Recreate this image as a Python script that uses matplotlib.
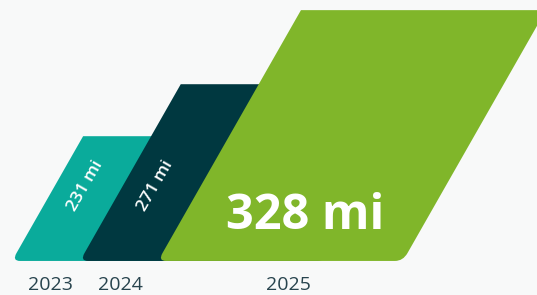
import numpy as np
import matplotlib.pyplot as plt
from matplotlib.path import Path
from matplotlib.patches import PathPatch
from matplotlib.transforms import Affine2D

# Data
years = ["2023", "2024", "2025"]
miles = [231, 271, 328]

# Style / layout
colors = ["#0aab9b", "#003840", "#80b62a"]
bg = "#f8f9f9"
year_color = "#28444e"
base = 135                      # value at the bar baseline
x_left = [12, 80, 158]          # bottom-left corner of each bar (px)
bar_w = 245
year_x = [50, 120, 288]
slant = 0.57                    # horizontal px per vertical px

plt.rcParams["font.family"] = ["Open Sans", "DejaVu Sans"]

fig = plt.figure(figsize=(5.37, 2.95), dpi=100, facecolor=bg)
ax = fig.add_axes([0, 0, 1, 1])
ax.set_facecolor(bg)
ax.set_xlim(0, 537)
ax.set_ylim(108.8, 335.8)
ax.axis("off")

px_per_unit = 295 / (335.8 - 108.8)
shear = slant * px_per_unit
skew = Affine2D().translate(0, -base).skew(np.arctan(shear), 0).translate(0, base) + ax.transData


def bar_path(x0, w, top, rx=8, ry=6):
    verts = [
        (x0 + rx, base),
        (x0 + w - rx, base),
        (x0 + w, base), (x0 + w, base + ry),
        (x0 + w, top),
        (x0, top),
        (x0, base + ry),
        (x0, base), (x0 + rx, base),
        (x0 + rx, base),
    ]
    codes = [Path.MOVETO, Path.LINETO, Path.CURVE3, Path.CURVE3, Path.LINETO,
             Path.LINETO, Path.LINETO, Path.CURVE3, Path.CURVE3, Path.CLOSEPOLY]
    return Path(verts, codes)


for i, v in enumerate(miles):
    patch = PathPatch(bar_path(x_left[i], bar_w, v), facecolor=colors[i],
                      edgecolor="none", transform=skew, zorder=i + 1)
    ax.add_patch(patch)

# value labels
ax.text(x_left[0] + 30, 193, f"{miles[0]} mi", transform=skew, rotation=60,
        color="white", fontsize=12.5, fontweight="semibold",
        ha="center", va="center", zorder=10)
ax.text(x_left[1] + 33, 193, f"{miles[1]} mi", transform=skew, rotation=60,
        color="white", fontsize=12.5, fontweight="semibold",
        ha="center", va="center", zorder=10)
ax.text(x_left[2] + 122, 169, f"{miles[2]} mi", transform=skew,
        color="white", fontsize=35, fontweight="bold",
        ha="center", va="center", zorder=10)

# year labels
for x, y in zip(year_x, years):
    ax.text(x, 116.5, y, color=year_color, fontsize=14, ha="center", va="center")

fig.savefig("out.png", dpi=100, facecolor=bg)
